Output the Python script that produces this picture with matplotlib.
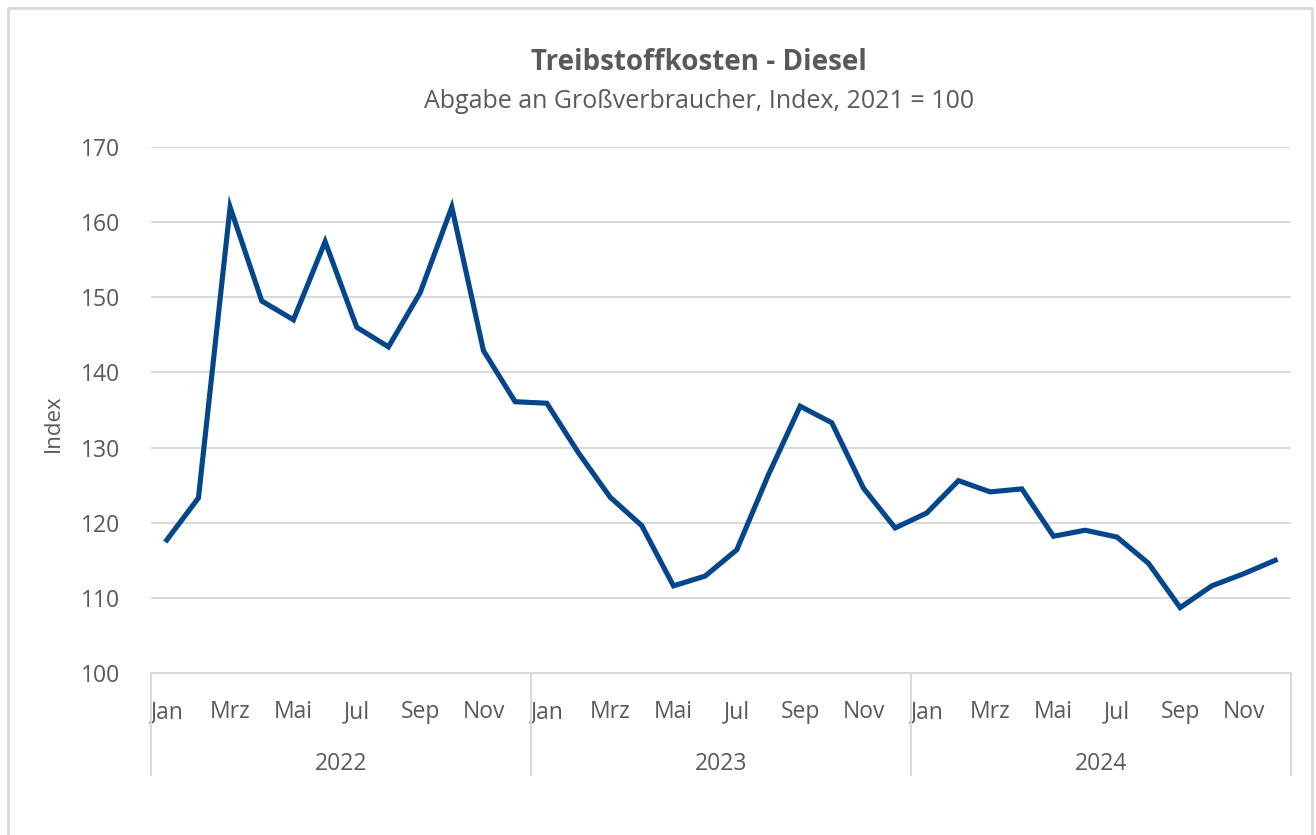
import matplotlib.pyplot as plt
from matplotlib.lines import Line2D

plt.rcParams['font.family'] = ['Open Sans', 'DejaVu Sans']

years = ['2022', '2023', '2024']
month_names = ['Jan', 'Feb', 'Mrz', 'Apr', 'Mai', 'Jun', 'Jul', 'Aug', 'Sep', 'Okt', 'Nov', 'Dez']
index_values = [
    117.7, 123.3, 162.0, 149.5, 147.0, 157.4, 146.0, 143.4, 150.6, 162.0, 142.9, 136.1,
    135.9, 129.3, 123.4, 119.6, 111.6, 112.9, 116.4, 126.4, 135.5, 133.3, 124.6, 119.3,
    121.3, 125.6, 124.1, 124.5, 118.2, 119.0, 118.1, 114.6, 108.7, 111.6, 113.2, 115.0,
]
y_ticks = [100, 110, 120, 130, 140, 150, 160, 170]

text_color = '#595959'
grid_color = '#d9d9d9'
line_color = '#03468c'

fig = plt.figure(figsize=(13.16, 8.35), dpi=100)
ax = fig.add_axes([0.1147, 0.194, 0.8663, 0.630])

x = list(range(len(index_values)))
ax.plot(x, index_values, color=line_color, linewidth=3.7, solid_joinstyle='miter')

ax.set_xlim(-0.5, len(index_values) - 0.5)
ax.set_ylim(100, 170)
ax.set_yticks(y_ticks)
ax.yaxis.grid(True, color=grid_color, linewidth=1.4)
ax.set_axisbelow(True)
for s in ['top', 'right', 'left']:
    ax.spines[s].set_visible(False)
ax.spines['bottom'].set_color(grid_color)
ax.spines['bottom'].set_linewidth(1.4)

# month labels (every second month)
tick_pos = [i for i in x if i % 2 == 0]
ax.set_xticks(tick_pos)
ax.set_xticklabels([month_names[i % 12] for i in tick_pos])
ax.tick_params(axis='x', length=0, pad=28, labelsize=16.5, labelcolor=text_color)
ax.tick_params(axis='y', length=0, pad=22, labelsize=16.5, labelcolor=text_color)
for lab in ax.get_xticklabels():
    lab.set_verticalalignment('center')

# year groups with separators
for k, yr in enumerate(years):
    ax.text(12 * k + 5.5, -0.1725, yr, transform=ax.get_xaxis_transform(),
            ha='center', va='center', fontsize=16.5, color=text_color)
for b in range(len(years) + 1):
    ax.plot([12 * b - 0.5] * 2, [0, -0.194], transform=ax.get_xaxis_transform(),
            color=grid_color, linewidth=1.4, clip_on=False)

ax.set_ylabel('Index', fontsize=16, color=text_color)
ax.yaxis.set_label_coords(-0.076, 0.475)

fig.text(0.531, 0.925, 'Treibstoffkosten - Diesel', ha='center', va='center',
         fontsize=20, fontweight='bold', color=text_color)
fig.text(0.531, 0.878, 'Abgabe an Großverbraucher, Index, 2021 = 100', ha='center', va='center',
         fontsize=18, color=text_color)

# outer chart frame
l, r, t = 8 / 1316, 1312 / 1316, 1 - 8 / 835
fig.add_artist(Line2D([l, l, r, r], [-0.01, t, t, -0.01], transform=fig.transFigure,
                      color=grid_color, linewidth=2))

fig.savefig('out.png', dpi=100)
